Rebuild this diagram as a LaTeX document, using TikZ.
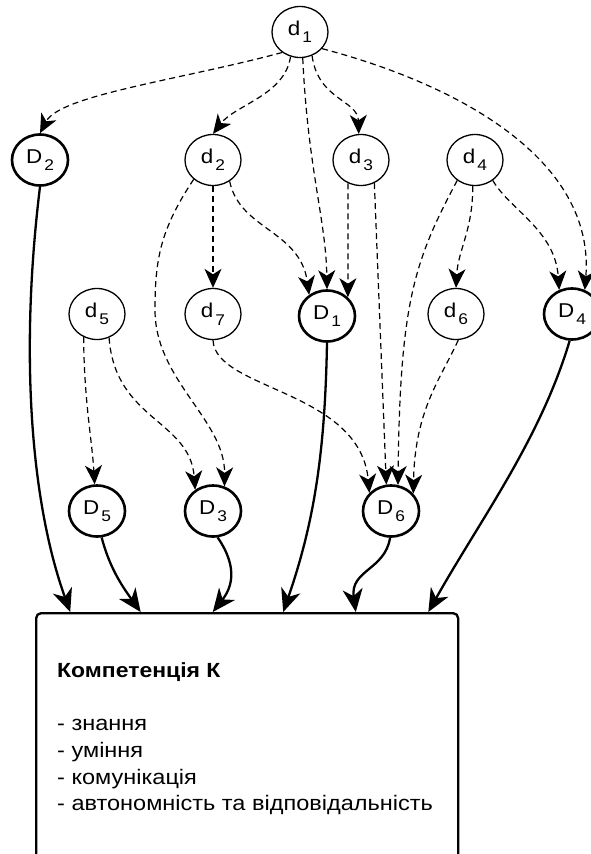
\documentclass[tikz,border=0pt]{standalone}
\usepackage{fontspec}
\setmainfont{Liberation Sans}[FakeStretch=1.12]
\usetikzlibrary{arrows.meta,shapes.geometric,calc}
% element label: letter with a lowered index
\newcommand{\nodelbl}[2]{#1\kern2pt\raisebox{-7.5pt}{\fontsize{15.5}{15.5}\selectfont #2}}

\begin{document}
\begin{tikzpicture}[x=1pt,y=-1pt,
  elem/.style={ellipse, draw, line width=1.3pt, minimum width=56pt, minimum height=51pt,
    inner sep=0pt, font=\fontsize{20}{20}\selectfont},
  result/.style={elem, line width=2.6pt},
  dep/.style={line width=1.2pt, dash pattern=on 6pt off 4pt,
    -{Stealth[length=19pt,width=17pt,inset=5.5pt]}},
  feed/.style={line width=2.3pt, -{Stealth[length=23pt,width=20pt,inset=7pt]}},
  box/.style={draw, line width=2.3pt, rounded corners=5pt},
  txt/.style={anchor=base west, inner sep=0pt, font=\fontsize{21}{21}\selectfont}]

\useasboundingbox (0,0) rectangle (591,854);
\fill[white] (0,0) rectangle (591,854);

% top level
\node[elem] (d1) at (300,32) {\nodelbl{d}{1}};
% first row
\node[result] (D2) at (40,160) {\nodelbl{D}{2}};
\node[elem] (d2) at (213,160) {\nodelbl{d}{2}};
\node[elem] (d3) at (361,160) {\nodelbl{d}{3}};
\node[elem] (d4) at (475,160) {\nodelbl{d}{4}};
% second row
\node[elem] (d5) at (97,314) {\nodelbl{d}{5}};
\node[elem] (d7) at (213,314) {\nodelbl{d}{7}};
\node[result] (D1) at (327,316) {\nodelbl{D}{1}};
\node[elem] (d6) at (456,314) {\nodelbl{d}{6}};
\node[result] (D4) at (572,314) {\nodelbl{D}{4}};
% third row
\node[result] (D5) at (97,511) {\nodelbl{D}{5}};
\node[result] (D3) at (213,511) {\nodelbl{D}{3}};
\node[result] (D6) at (391,511) {\nodelbl{D}{6}};

% competence box
\node[box, anchor=north west, minimum width=422pt, minimum height=280pt] (K) at (35,612) {};
\node[txt, font=\fontsize{20.5}{20.5}\selectfont\bfseries] (kt) at (57,677) {Компетенція К};
\node[txt] (k1) at (57,730) {- знання};
\node[txt] (k2) at (57,757) {- уміння};
\node[txt] (k3) at (57,784) {- комунікація};
\node[txt] (k4) at (57,810) {- автономність та відповідальність};

\coordinate (in1) at ($(K.north west)!0.083!(K.north east)$);
\coordinate (in2) at ($(K.north west)!0.249!(K.north east)$);
\coordinate (in3) at ($(K.north west)!0.419!(K.north east)$);
\coordinate (in4) at ($(K.north west)!0.585!(K.north east)$);
\coordinate (in5) at ($(K.north west)!0.756!(K.north east)$);
\coordinate (in6) at ($(K.north west)!0.927!(K.north east)$);

% dependencies (dashed)
\draw[dep] (d1.229) .. controls (180,80) and (60,95) .. (D2.north);
\draw[dep] (d1.249) .. controls (285,95) and (235,105) .. (d2.north);
\draw[dep] (d1.276) .. controls (308,170) and (326,220) .. (D1.north);
\draw[dep] (d1.297) .. controls (318,100) and (358,100) .. (d3.95);
\draw[dep] (d1.323) .. controls (460,85) and (595,160) .. (D4.62);

\draw[dep] (d2.225) .. controls (160,230) and (155,260) .. (155,310)
  .. controls (155,380) and (225,420) .. (D3.65);
\draw[dep] (d2.south) -- (d7.north);
\draw[dep] (d2.308) .. controls (240,230) and (300,230) .. (D1.130);

\draw[dep] (d3.241) -- (D1.42);
\draw[dep] (d3.300) -- (D6.100);

\draw[dep] (d4.229) .. controls (415,260) and (400,300) .. (D6.75);
\draw[dep] (d4.265) .. controls (473,230) and (458,250) .. (d6.north);
\draw[dep] (d4.311) .. controls (510,210) and (555,230) .. (D4.118);

\draw[dep] (d5.240) .. controls (84,400) and (92,440) .. (D5.95);
\draw[dep] (d5.297) .. controls (115,420) and (190,420) .. (D3.130);

\draw[dep] (d7.south) .. controls (215,390) and (360,390) .. (D6.140);
\draw[dep] (d6.275) .. controls (440,380) and (415,410) .. (D6.38);

% contributions to the competence (solid)
\draw[feed] (D2.south) .. controls (20,350) and (30,500) .. (in1);
\draw[feed] (D5.280) .. controls (110,570) and (125,590) .. (in2);
\draw[feed] (D3.280) .. controls (240,570) and (230,590) .. (in3);
\draw[feed] (D1.south) .. controls (325,450) and (315,520) .. (in4);
\draw[feed] (D6.268) .. controls (385,570) and (350,570) .. (in5);
\draw[feed] (D4.265) .. controls (540,440) and (480,520) .. (in6);
\end{tikzpicture}
\end{document}
